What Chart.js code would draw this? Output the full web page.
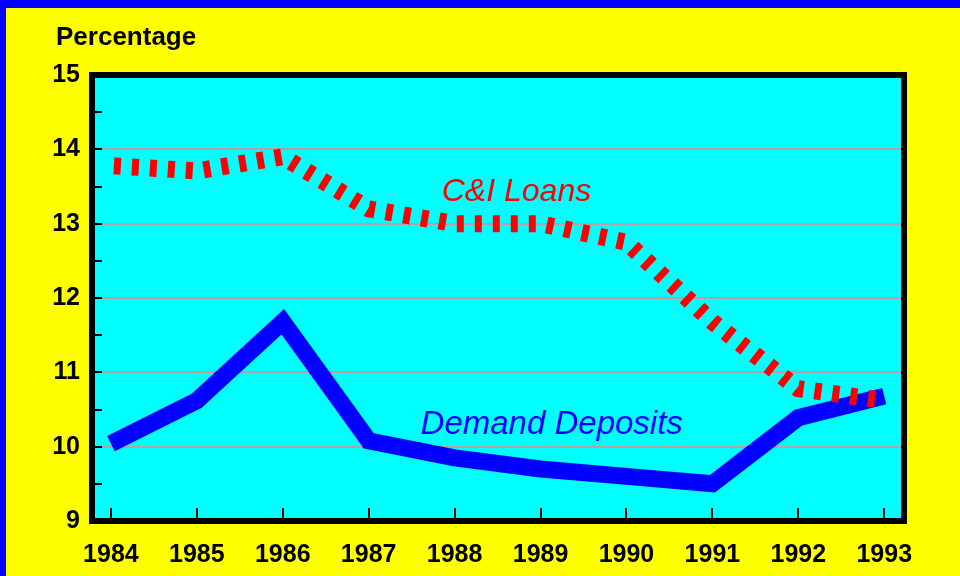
<!DOCTYPE html>
<html>
<head>
<meta charset="utf-8">
<script src="https://cdn.jsdelivr.net/npm/chart.js@4/dist/chart.umd.min.js"></script>
<style>
  html, body { margin: 0; padding: 0; background: #ffff00; }
  #wrap { width: 960px; height: 576px; position: relative; }
</style>
</head>
<body>
<div id="wrap"><canvas id="pctChart"></canvas></div>
<script>
const years = [1984, 1985, 1986, 1987, 1988, 1989, 1990, 1991, 1992, 1993];
const ciLoans = [13.78, 13.71, 13.9, 13.2, 13.0, 13.0, 12.75, 11.68, 10.78, 10.62];
const demandDeposits = [10.04, 10.62, 11.68, 10.08, 9.85, 9.7, 9.6, 9.5, 10.39, 10.68];
const yTicks = [9, 10, 11, 12, 13, 14, 15];

const tickFont = "'Liberation Sans', Arial, sans-serif";

// yellow page, blue frame strips, cyan plot, black box, inner tick marks, labels
const decor = {
  id: "decor",
  beforeDraw(chart) {
    const { ctx, chartArea: a } = chart;
    ctx.save();
    ctx.fillStyle = "#ffff00";
    ctx.fillRect(0, 0, chart.width, chart.height);
    ctx.fillStyle = "#0000ff";
    ctx.fillRect(0, 0, chart.width, 8);
    ctx.fillRect(0, 0, 6, chart.height);
    ctx.fillStyle = "#00ffff";
    ctx.fillRect(a.left, a.top, a.right - a.left, a.bottom - a.top);
    ctx.restore();
  },
  afterDatasetsDraw(chart) {
    const { ctx, chartArea: a, scales } = chart;
    ctx.save();
    ctx.strokeStyle = "#000";
    ctx.lineWidth = 2;
    for (let v = 9; v <= 15; v += 0.5) {
      const y = Math.round(scales.y.getPixelForValue(v));
      ctx.beginPath();
      ctx.moveTo(a.left, y);
      ctx.lineTo(a.left + 10, y);
      ctx.stroke();
    }
    years.forEach((yr) => {
      const x = Math.round(scales.x.getPixelForValue(yr));
      ctx.beginPath();
      ctx.moveTo(x, a.bottom);
      ctx.lineTo(x, a.bottom - 13);
      ctx.stroke();
    });
    ctx.lineWidth = 6;
    ctx.strokeRect(a.left, a.top, a.right - a.left, a.bottom - a.top);

    ctx.font = "italic 32px 'Liberation Sans', Arial, sans-serif";
    ctx.textAlign = "center";
    ctx.textBaseline = "alphabetic";
    ctx.fillStyle = "#ff0000";
    ctx.fillText("C&I Loans", scales.x.getPixelForValue(1988.72), scales.y.getPixelForValue(13.3));
    ctx.font = "italic 33px 'Liberation Sans', Arial, sans-serif";
    ctx.fillStyle = "#0000ff";
    ctx.fillText("Demand Deposits", scales.x.getPixelForValue(1989.13), scales.y.getPixelForValue(10.17));

    ctx.fillStyle = "#000";
    ctx.textAlign = "left";
    ctx.font = "bold 26px 'Liberation Sans', Arial, sans-serif";
    ctx.fillText("Percentage", 56, 45);
    ctx.restore();
  },
};

new Chart(document.getElementById("pctChart"), {
  type: "line",
  data: {
    datasets: [
      {
        label: "C&I Loans",
        data: years.map((yr, i) => ({ x: yr, y: ciLoans[i] })),
        borderColor: "#ff0000",
        borderWidth: 17,
        borderDash: [7, 11],
        borderDashOffset: 15,
        borderCapStyle: "butt",
        borderJoinStyle: "miter",
        pointRadius: 0,
        tension: 0,
      },
      {
        label: "Demand Deposits",
        data: years.map((yr, i) => ({ x: yr, y: demandDeposits[i] })),
        borderColor: "#0000ff",
        borderWidth: 17,
        borderCapStyle: "butt",
        borderJoinStyle: "miter",
        pointRadius: 0,
        tension: 0,
      },
    ],
  },
  options: {
    responsive: true,
    maintainAspectRatio: false,
    animation: false,
    layout: { padding: { left: 6, top: 75, right: 56, bottom: 0 } },
    plugins: { legend: { display: false }, tooltip: { enabled: false } },
    scales: {
      x: {
        type: "linear",
        min: 1983.78,
        max: 1993.23,
        afterBuildTicks: (s) => { s.ticks = years.map((v) => ({ value: v })); },
        afterFit: (s) => { s.height = 55; },
        grid: { display: false },
        border: { display: false },
        ticks: {
          callback: (v) => String(v),
          color: "#000",
          padding: 11,
          maxRotation: 0,
          autoSkip: false,
          font: { family: tickFont, weight: "bold", size: 25 },
        },
      },
      y: {
        min: 9,
        max: 15,
        afterBuildTicks: (s) => { s.ticks = yTicks.map((v) => ({ value: v })); },
        afterFit: (s) => { s.width = 86; },
        grid: {
          drawTicks: false,
          lineWidth: 2,
          color: (c) => (c.tick && (c.tick.value === 9 || c.tick.value === 15) ? "rgba(0,0,0,0)" : "#b8a0a0"),
        },
        border: { display: false },
        ticks: {
          color: "#000",
          padding: 12,
          font: { family: tickFont, weight: "bold", size: 25 },
        },
      },
    },
  },
  plugins: [decor],
});
</script>
</body>
</html>
